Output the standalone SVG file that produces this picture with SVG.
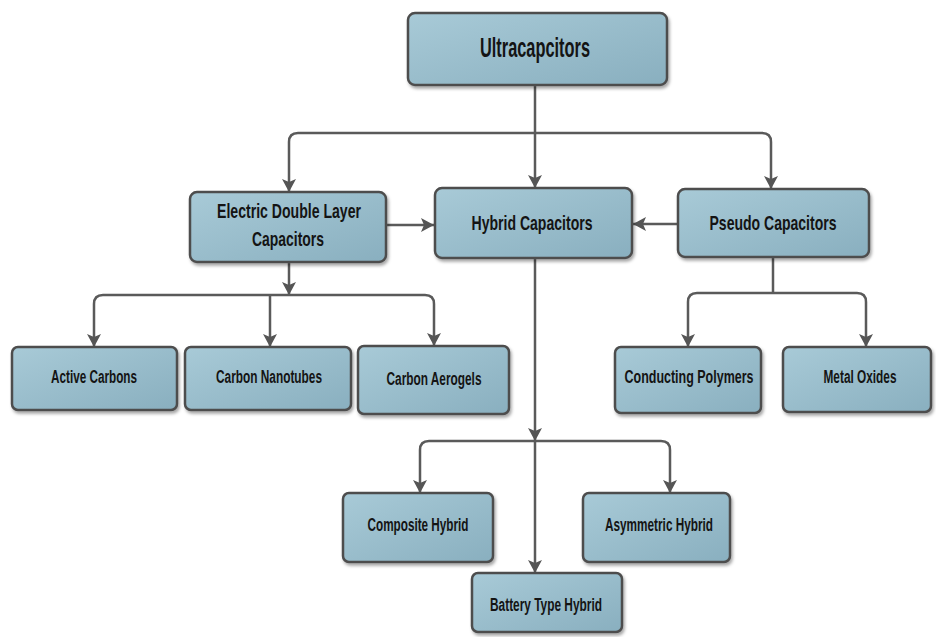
<svg xmlns="http://www.w3.org/2000/svg" width="936" height="637" viewBox="0 0 936 637">
<defs>
<linearGradient id="g" x1="0" y1="0" x2="1" y2="1">
<stop offset="0" stop-color="#a8cad7"/>
<stop offset="1" stop-color="#89afbf"/>
</linearGradient>
<filter id="sh" x="-10%" y="-10%" width="125%" height="135%">
<feDropShadow dx="1.5" dy="2.5" stdDeviation="1.5" flood-color="#000" flood-opacity="0.35"/>
</filter>
<marker id="ah" markerUnits="userSpaceOnUse" markerWidth="14" markerHeight="14" viewBox="0 0 14 14" refX="13" refY="7" orient="auto">
<path d="M0,0 L13,7 L0,14 L3,7 z" fill="#555"/>
</marker>
<style>
.box{fill:url(#g);stroke:#4d4d4d;stroke-width:2.5;filter:url(#sh)}
.t{font-family:"Liberation Sans",Arial,sans-serif;font-weight:bold;fill:#141414;text-anchor:middle;dominant-baseline:central}
.big{font-size:27px}
.mid{font-size:21px}
.sm{font-size:18px}
.c{fill:none;stroke:#5a5a5a;stroke-width:2.5}
</style>
</defs>
<g id="connectors">
<path class="c" d="M535,85 V133"/>
<path class="c" d="M535,133 H298 Q289,133 289,142 V192" marker-end="url(#ah)"/>
<path class="c" d="M535,133 H762 Q771,133 771,142 V189" marker-end="url(#ah)"/>
<path class="c" d="M535,133 V188" marker-end="url(#ah)"/>
<path class="c" d="M386,225 H434" marker-end="url(#ah)"/>
<path class="c" d="M678,224 H633" marker-end="url(#ah)"/>
<path class="c" d="M289,262 V295" marker-end="url(#ah)"/>
<path class="c" d="M289,295 H103 Q94,295 94,304 V347" marker-end="url(#ah)"/>
<path class="c" d="M289,295 H425 Q434,295 434,304 V346" marker-end="url(#ah)"/>
<path class="c" d="M270,295 V347" marker-end="url(#ah)"/>
<path class="c" d="M773,257 V293"/>
<path class="c" d="M773,293 H697 Q688,293 688,302 V347" marker-end="url(#ah)"/>
<path class="c" d="M773,293 H857 Q866,293 866,302 V347" marker-end="url(#ah)"/>
<path class="c" d="M535,258 V441" marker-end="url(#ah)"/>
<path class="c" d="M535,441 H429 Q420,441 420,450 V493" marker-end="url(#ah)"/>
<path class="c" d="M535,441 H661 Q670,441 670,450 V493" marker-end="url(#ah)"/>
<path class="c" d="M535,441 V573" marker-end="url(#ah)"/>
</g>
<g id="n-ultra"><rect class="box" x="408" y="13" width="259" height="72" rx="7"/><text class="t big" x="535" y="48" textLength="110" lengthAdjust="spacingAndGlyphs">Ultracapcitors</text></g>
<g id="n-edlc"><rect class="box" x="190" y="192" width="196" height="70" rx="7"/><text class="t mid" x="289" y="210" textLength="144" lengthAdjust="spacingAndGlyphs">Electric Double Layer</text><text class="t mid" x="288" y="238" textLength="72" lengthAdjust="spacingAndGlyphs">Capacitors</text></g>
<g id="n-hybrid"><rect class="box" x="435" y="188" width="197" height="70" rx="7"/><text class="t mid" x="532" y="222" textLength="121" lengthAdjust="spacingAndGlyphs">Hybrid Capacitors</text></g>
<g id="n-pseudo"><rect class="box" x="678" y="189" width="191" height="68" rx="7"/><text class="t mid" x="773" y="222" textLength="127" lengthAdjust="spacingAndGlyphs">Pseudo Capacitors</text></g>
<g id="n-active"><rect class="box" x="12" y="347" width="165" height="63" rx="6"/><text class="t sm" x="94" y="377" textLength="86" lengthAdjust="spacingAndGlyphs">Active Carbons</text></g>
<g id="n-nanotubes"><rect class="box" x="185" y="347" width="166" height="63" rx="6"/><text class="t sm" x="269" y="377" textLength="106" lengthAdjust="spacingAndGlyphs">Carbon Nanotubes</text></g>
<g id="n-aerogels"><rect class="box" x="358" y="346" width="151" height="68" rx="6"/><text class="t sm" x="434" y="379" textLength="95" lengthAdjust="spacingAndGlyphs">Carbon Aerogels</text></g>
<g id="n-polymers"><rect class="box" x="615" y="347" width="146" height="66" rx="6"/><text class="t sm" x="689" y="377" textLength="129" lengthAdjust="spacingAndGlyphs">Conducting Polymers</text></g>
<g id="n-oxides"><rect class="box" x="783" y="347" width="148" height="65" rx="6"/><text class="t sm" x="860" y="377" textLength="73" lengthAdjust="spacingAndGlyphs">Metal Oxides</text></g>
<g id="n-composite"><rect class="box" x="343" y="493" width="150" height="69" rx="6"/><text class="t sm" x="418" y="525" textLength="101" lengthAdjust="spacingAndGlyphs">Composite Hybrid</text></g>
<g id="n-asym"><rect class="box" x="583" y="493" width="147" height="69" rx="6"/><text class="t sm" x="659" y="525" textLength="108" lengthAdjust="spacingAndGlyphs">Asymmetric Hybrid</text></g>
<g id="n-battery"><rect class="box" x="472" y="573" width="150" height="59" rx="6"/><text class="t sm" x="546" y="605" textLength="112" lengthAdjust="spacingAndGlyphs">Battery Type Hybrid</text></g>
</svg>
